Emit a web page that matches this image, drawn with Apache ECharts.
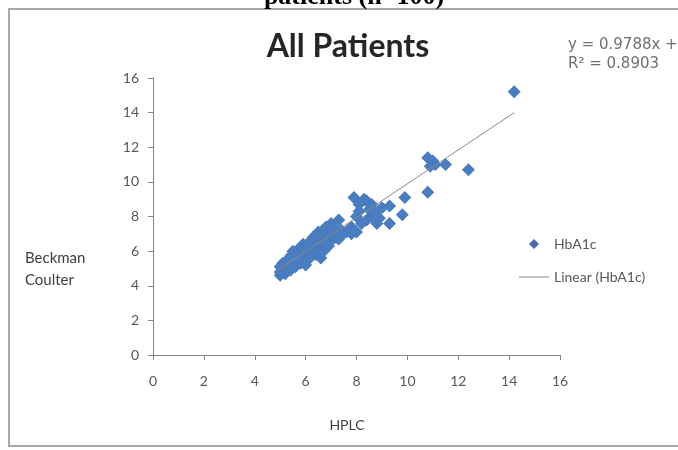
<!DOCTYPE html>
<html><head><meta charset="utf-8">
<script src="https://cdn.jsdelivr.net/npm/echarts@6/dist/echarts.min.js"></script>
<style>html,body{margin:0;padding:0;background:#fff}#c{width:678px;height:450px}</style>
</head><body><div id="c"></div>
<script>
// HPLC (x) and Beckman Coulter (y) HbA1c values
const hplc = [5.0,5.0,5.0,5.1,5.1,5.2,5.2,5.3,5.3,5.4,5.4,5.4,5.5,5.5,5.5,5.6,5.6,5.6,5.7,5.7,5.7,5.8,5.8,5.8,5.9,5.9,5.9,6.0,6.0,6.0,6.0,6.1,6.1,6.1,6.2,6.2,6.2,6.3,6.3,6.3,6.4,6.4,6.4,6.5,6.5,6.5,6.5,6.6,6.6,6.6,6.7,6.7,6.7,6.8,6.8,6.8,6.9,6.9,6.9,7.0,7.0,7.0,7.1,7.2,7.2,7.3,7.3,7.4,7.4,7.6,7.8,7.8,
  7.9,8.0,8.0,8.1,8.1,8.2,8.3,8.4,8.4,8.5,8.6,8.6,8.7,8.8,8.9,9.0,9.3,9.3,9.8,9.9,10.8,10.8,10.9,11.0,11.1,11.5,12.4,14.2];
const beckman = [4.6,4.8,5.1,4.9,5.3,4.7,5.1,5.0,5.5,5.3,4.9,5.7,5.2,5.6,6.0,5.5,5.8,5.1,5.4,5.9,6.1,5.6,6.0,5.3,5.8,6.2,6.4,5.7,6.0,6.3,5.2,5.9,6.4,5.5,6.1,6.6,5.7,6.0,6.5,6.8,6.2,6.7,5.8,6.4,6.9,6.0,7.1,6.3,6.7,5.6,6.5,7.2,6.0,6.6,7.4,6.2,6.8,7.0,6.3,6.6,7.1,7.6,6.9,6.8,7.2,7.8,6.7,6.9,7.2,7.1,7.4,7.0,
  9.1,8.0,7.1,8.7,8.3,7.6,9.0,8.9,7.8,8.4,8.7,8.0,8.3,7.6,7.9,8.5,8.6,7.6,8.1,9.1,9.4,11.4,10.9,11.2,11.0,11.0,10.7,15.2];
// Linear trend line end points (HPLC, Beckman)
const trendX = [4.9, 14.2];
const trendY = [4.9, 14.0];
const equationLines = ['y = 0.9788x + 0.1031', 'R\u00b2 = 0.8903'];
const seriesName = 'HbA1c';
const trendName = 'Linear (HbA1c)';

const points = hplc.map((x, i) => [x, beckman[i]]);
const trend = trendX.map((x, i) => [x, trendY[i]]);

const FONT = 'Lato, "Open Sans", sans-serif';
const axisCommon = {
  type: 'value', min: 0, max: 16, interval: 2,
  axisLine: { show: true, lineStyle: { color: '#868686', width: 1 } },
  axisTick: { show: true, length: 5, lineStyle: { color: '#868686' } },
  splitLine: { show: false },
  axisLabel: { color: '#595959', fontSize: 14, fontFamily: FONT }
};

const chart = echarts.init(document.getElementById('c'), null, { renderer: 'canvas' });
chart.setOption({
  backgroundColor: '#ffffff',
  animation: false,
  grid: { left: 153, right: 118, top: 78, bottom: 95, containLabel: false },
  xAxis: Object.assign({}, axisCommon, { axisLabel: Object.assign({}, axisCommon.axisLabel, { margin: 19 }) }),
  yAxis: Object.assign({}, axisCommon, { axisLabel: Object.assign({}, axisCommon.axisLabel, { margin: 14 }) }),
  legend: {
    orient: 'vertical', left: 514, top: 232, itemWidth: 30, itemHeight: 10, itemGap: 19,
    symbolKeepAspect: true,
    textStyle: { color: '#595959', fontSize: 14, fontFamily: FONT },
    data: [
      { name: seriesName, icon: 'path://M5,0L10,5L5,10L0,5Z', itemStyle: { color: '#4e66ad' } },
      { name: trendName, icon: 'path://M0,0L30,0L30,1L0,1Z', itemStyle: { color: '#8a8a8a' } }
    ]
  },
  series: [
    { name: seriesName, type: 'scatter', symbol: 'diamond', symbolSize: 13,
      itemStyle: { color: '#4a7dbf', opacity: 1 }, data: points, z: 2 },
    { name: trendName, type: 'line', symbol: 'none', data: trend, z: 3,
      lineStyle: { color: '#8a8a8a', width: 1 } }
  ],
  graphic: [
    { type: 'rect', shape: { x: 9, y: 9, width: 690, height: 437 }, silent: true,
      style: { fill: 'none', stroke: '#a8a8a8', lineWidth: 2 } },
    { type: 'text', x: 354, y: -3, silent: true,
      style: { text: 'patients (n=100)', font: 'bold 26px "Liberation Serif", serif', fill: '#000', align: 'center', verticalAlign: 'middle' } },
    { type: 'text', x: 348, y: 47, silent: true,
      style: { text: 'All Patients', font: 'bold 32px ' + FONT, fill: '#262626', align: 'center', verticalAlign: 'middle' } },
    { type: 'text', x: 568, y: 45, silent: true,
      style: { text: equationLines[0], font: '15px "DejaVu Sans", sans-serif', fill: '#707070', align: 'left', verticalAlign: 'middle' } },
    { type: 'text', x: 568, y: 64, silent: true,
      style: { text: equationLines[1], font: '15px "DejaVu Sans", sans-serif', fill: '#707070', align: 'left', verticalAlign: 'middle' } },
    { type: 'text', x: 25, y: 258, silent: true,
      style: { text: 'Beckman', font: '15px ' + FONT, fill: '#404040', align: 'left', verticalAlign: 'middle' } },
    { type: 'text', x: 25, y: 280, silent: true,
      style: { text: 'Coulter', font: '15px ' + FONT, fill: '#404040', align: 'left', verticalAlign: 'middle' } },
    { type: 'text', x: 347, y: 425, silent: true,
      style: { text: 'HPLC', font: '14px ' + FONT, fill: '#404040', align: 'center', verticalAlign: 'middle' } }
  ]
});
</script></body></html>
